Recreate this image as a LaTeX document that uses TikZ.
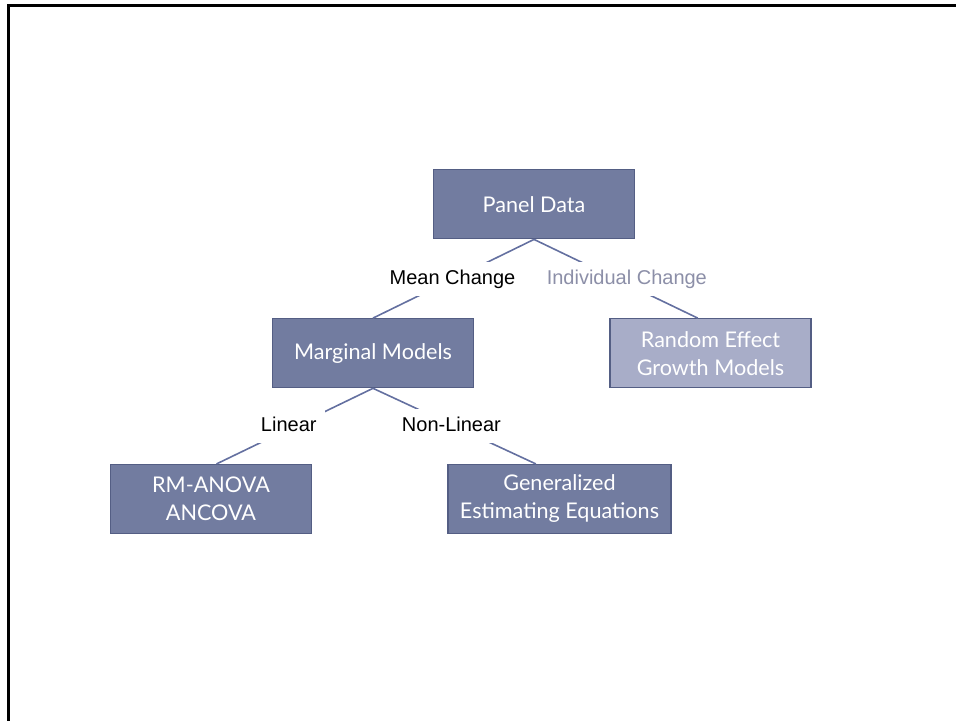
\documentclass[tikz,border=0pt]{standalone}
\usepackage{fontspec}
\setmainfont{Lato}
\newfontfamily\arialfont{Liberation Sans}
\definecolor{slateblue}{RGB}{114, 124, 160}
\definecolor{slateedge}{RGB}{84, 94, 132}
\definecolor{lavender}{RGB}{168, 173, 200}
\definecolor{greylabel}{RGB}{140, 143, 168}
\definecolor{linkblue}{RGB}{100, 112, 160}

\begin{document}
\begin{tikzpicture}[x=1pt, y=-1pt,
        model/.style={draw=slateedge, line width=1.2pt, fill=slateblue, text=white,
            minimum width=201pt, minimum height=69pt, align=center,
            font=\fontsize{21.6}{28}\selectfont},
        branch/.style={fill=white, inner xsep=8pt, inner ysep=7.5pt,
            text height=15pt, text depth=4.5pt,
            font=\arialfont\fontsize{20}{24}\selectfont},
        link/.style={draw=linkblue, line width=1.6pt}]
            % Frame
            \useasboundingbox (0,0) rectangle (956,721);
            \draw[line width=3pt] (956,5.5) -- (8,5.5) -- (8,721);
            % Models
            \node[model] (pd)  at (534.0,204.3) {Panel Data};
            \node[model] (mm)  at (373.0,353.2) {Marginal Models};
            \node[model, fill=lavender] (re) at (710.5,353.2) {Random Effect\\Growth Models};
            \node[model] (rm)  at (211.0,499.0) {RM-ANOVA\\ANCOVA};
            \node[model, minimum width=223pt] (gee) at (559.5,499.0) {Generalized\\Estimating Equations};
            % Mean vs individual change
            \draw[link] (pd.south) -- node[branch, xshift=-1pt] (mean) {Mean Change} (mm.north);
            \draw[link] (pd.south) -- node[branch, xshift=11pt, text=greylabel] (indiv) {Individual Change} (re.110);
            % Linear vs non-linear
            \draw[link] (mm.south) -- node[branch, xshift=-6pt] (lin) {Linear} (rm.81);
            \draw[link] (mm.south) -- node[branch, xshift=-3pt] (nonlin) {Non-Linear} (gee.124);
\end{tikzpicture}
\end{document}
